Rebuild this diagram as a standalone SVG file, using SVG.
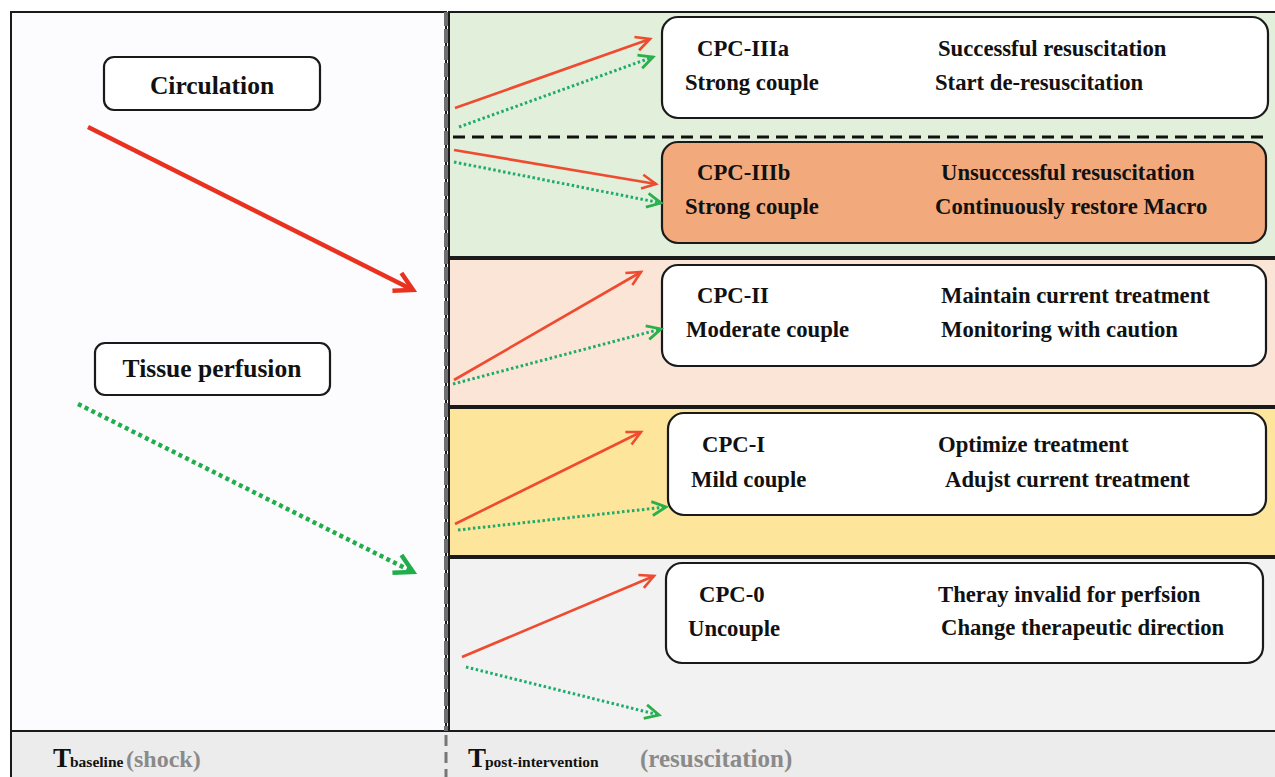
<svg xmlns="http://www.w3.org/2000/svg" width="1275" height="777" viewBox="0 0 1275 777">
<style>
.t{font-family:"Liberation Serif","Times New Roman",serif;font-weight:bold;fill:#111;}
.lbl{font-size:22.7px;}
.big{font-size:25.5px;}
.box{fill:#fff;stroke:#1a1a1a;stroke-width:2.2;}
.red{stroke:#ee4b30;stroke-width:2.6;fill:none;marker-end:url(#ar);}
.grn{stroke:#1fac6a;stroke-width:3;fill:none;stroke-dasharray:2.5 2.5;marker-end:url(#ag);}
.band{stroke:#1a1a1a;stroke-width:2;}
.gray{fill:#8a8a8a;}
</style>
<defs>
<marker id="ar" markerUnits="userSpaceOnUse" markerWidth="22" markerHeight="22" viewBox="0 0 22 22" refX="19" refY="11" orient="auto">
<path d="M5,4 L19,11 L5,18" fill="none" stroke="#ee4b30" stroke-width="2.6"/>
</marker>
<marker id="ag" markerUnits="userSpaceOnUse" markerWidth="22" markerHeight="22" viewBox="0 0 22 22" refX="19" refY="11" orient="auto">
<path d="M5,4 L19,11 L5,18" fill="none" stroke="#2aaf4a" stroke-width="2.8"/>
</marker>
<marker id="arB" markerUnits="userSpaceOnUse" markerWidth="30" markerHeight="30" viewBox="0 0 30 30" refX="26" refY="15" orient="auto">
<path d="M8,5 L26,15 L8,25" fill="none" stroke="#e8321f" stroke-width="4.5"/>
</marker>
<marker id="agB" markerUnits="userSpaceOnUse" markerWidth="30" markerHeight="30" viewBox="0 0 30 30" refX="26" refY="15" orient="auto">
<path d="M8,5 L26,15 L8,25" fill="none" stroke="#22ad4c" stroke-width="4.5"/>
</marker>
</defs>

<g id="background">
<rect x="11" y="12" width="435" height="719" fill="#fcfcfe" stroke="#1a1a1a" stroke-width="2"/>
<rect x="11" y="731" width="1270" height="50" fill="#ececec" stroke="#1a1a1a" stroke-width="2"/>
<rect class="band" x="449" y="12" width="840" height="245" fill="#e2efda"/>
<rect class="band" x="449" y="259" width="840" height="147" fill="#fbe5d6"/>
<rect class="band" x="449" y="408" width="840" height="148" fill="#fde59b"/>
<rect class="band" x="449" y="558" width="840" height="173" fill="#f2f2f2"/>
<line x1="453" y1="137" x2="1268" y2="137" stroke="#111" stroke-width="3" stroke-dasharray="12 7"/>
<line x1="446" y1="12" x2="446" y2="731" stroke="#6e6e6e" stroke-width="4" stroke-dasharray="14 3"/>
<line x1="446" y1="735" x2="446" y2="777" stroke="#777" stroke-width="3" stroke-dasharray="11 6"/>
</g>

<g id="circulation">
<rect class="box" x="104" y="57" width="216" height="53" rx="10"/>
<text class="t big" x="212" y="94" text-anchor="middle">Circulation</text>
</g>
<g id="tissue-perfusion">
<rect class="box" x="95" y="343" width="235" height="52" rx="10"/>
<text class="t big" x="212" y="377" text-anchor="middle">Tissue perfusion</text>
</g>

<g id="cpc-IIIa">
<rect class="box" x="662" y="17" width="606" height="101" rx="16"/>
<text class="t lbl" x="697" y="56">CPC-IIIa</text>
<text class="t lbl" x="685" y="90">Strong couple</text>
<text class="t lbl" x="938" y="56">Successful resuscitation</text>
<text class="t lbl" x="935" y="90">Start de-resuscitation</text>
</g>
<g id="cpc-IIIb">
<rect class="box" x="662" y="142" width="604" height="101" rx="16" style="fill:#f2aa7c"/>
<text class="t lbl" x="697" y="180">CPC-IIIb</text>
<text class="t lbl" x="685" y="214">Strong couple</text>
<text class="t lbl" x="941" y="180">Unsuccessful resuscitation</text>
<text class="t lbl" x="935" y="214">Continuously restore Macro</text>
</g>
<g id="cpc-II">
<rect class="box" x="662" y="265" width="604" height="101" rx="16"/>
<text class="t lbl" x="697" y="303">CPC-II</text>
<text class="t lbl" x="686" y="337">Moderate couple</text>
<text class="t lbl" x="941" y="303">Maintain current treatment</text>
<text class="t lbl" x="941" y="337">Monitoring with caution</text>
</g>
<g id="cpc-I">
<rect class="box" x="668" y="413" width="598" height="102" rx="16"/>
<text class="t lbl" x="702" y="452">CPC-I</text>
<text class="t lbl" x="691" y="487">Mild couple</text>
<text class="t lbl" x="938" y="452">Optimize treatment</text>
<text class="t lbl" x="945" y="487">Adujst current treatment</text>
</g>
<g id="cpc-0">
<rect class="box" x="666" y="563" width="597" height="100" rx="16"/>
<text class="t lbl" x="699" y="602">CPC-0</text>
<text class="t lbl" x="688" y="636">Uncouple</text>
<text class="t lbl" x="938" y="602">Theray invalid for perfsion</text>
<text class="t lbl" x="941" y="635">Change therapeutic direction</text>
</g>

<g id="connectors">
<line x1="88" y1="127" x2="413" y2="290" stroke="#e8321f" stroke-width="4.5" marker-end="url(#arB)"/>
<line x1="78" y1="404" x2="413" y2="572" stroke="#22ad4c" stroke-width="4.5" stroke-dasharray="4 3.5" marker-end="url(#agB)"/>
<line class="red" x1="455" y1="108" x2="650" y2="39"/>
<line class="grn" x1="459" y1="127" x2="653" y2="57"/>
<line class="red" x1="454" y1="150" x2="656" y2="184"/>
<line class="grn" x1="454" y1="162" x2="661" y2="203"/>
<line class="red" x1="454" y1="380" x2="641" y2="272"/>
<line class="grn" x1="453" y1="384" x2="661" y2="329"/>
<line class="red" x1="455" y1="524" x2="641" y2="432"/>
<line class="grn" x1="458" y1="530" x2="666" y2="507"/>
<line class="red" x1="462" y1="657" x2="654" y2="576"/>
<line class="grn" x1="466" y1="667" x2="659" y2="715"/>
</g>

<g id="axis-labels">
<text class="t" x="53" y="767" font-size="27">T</text>
<text class="t" x="70" y="767" font-size="15.5">baseline</text>
<text class="t gray" x="126" y="767" font-size="24">(shock)</text>
<text class="t" x="468" y="767" font-size="27">T</text>
<text class="t" x="485" y="767" font-size="15.5">post-intervention</text>
<text class="t gray" x="640" y="767" font-size="25">(resuscitation)</text>
</g>
</svg>
